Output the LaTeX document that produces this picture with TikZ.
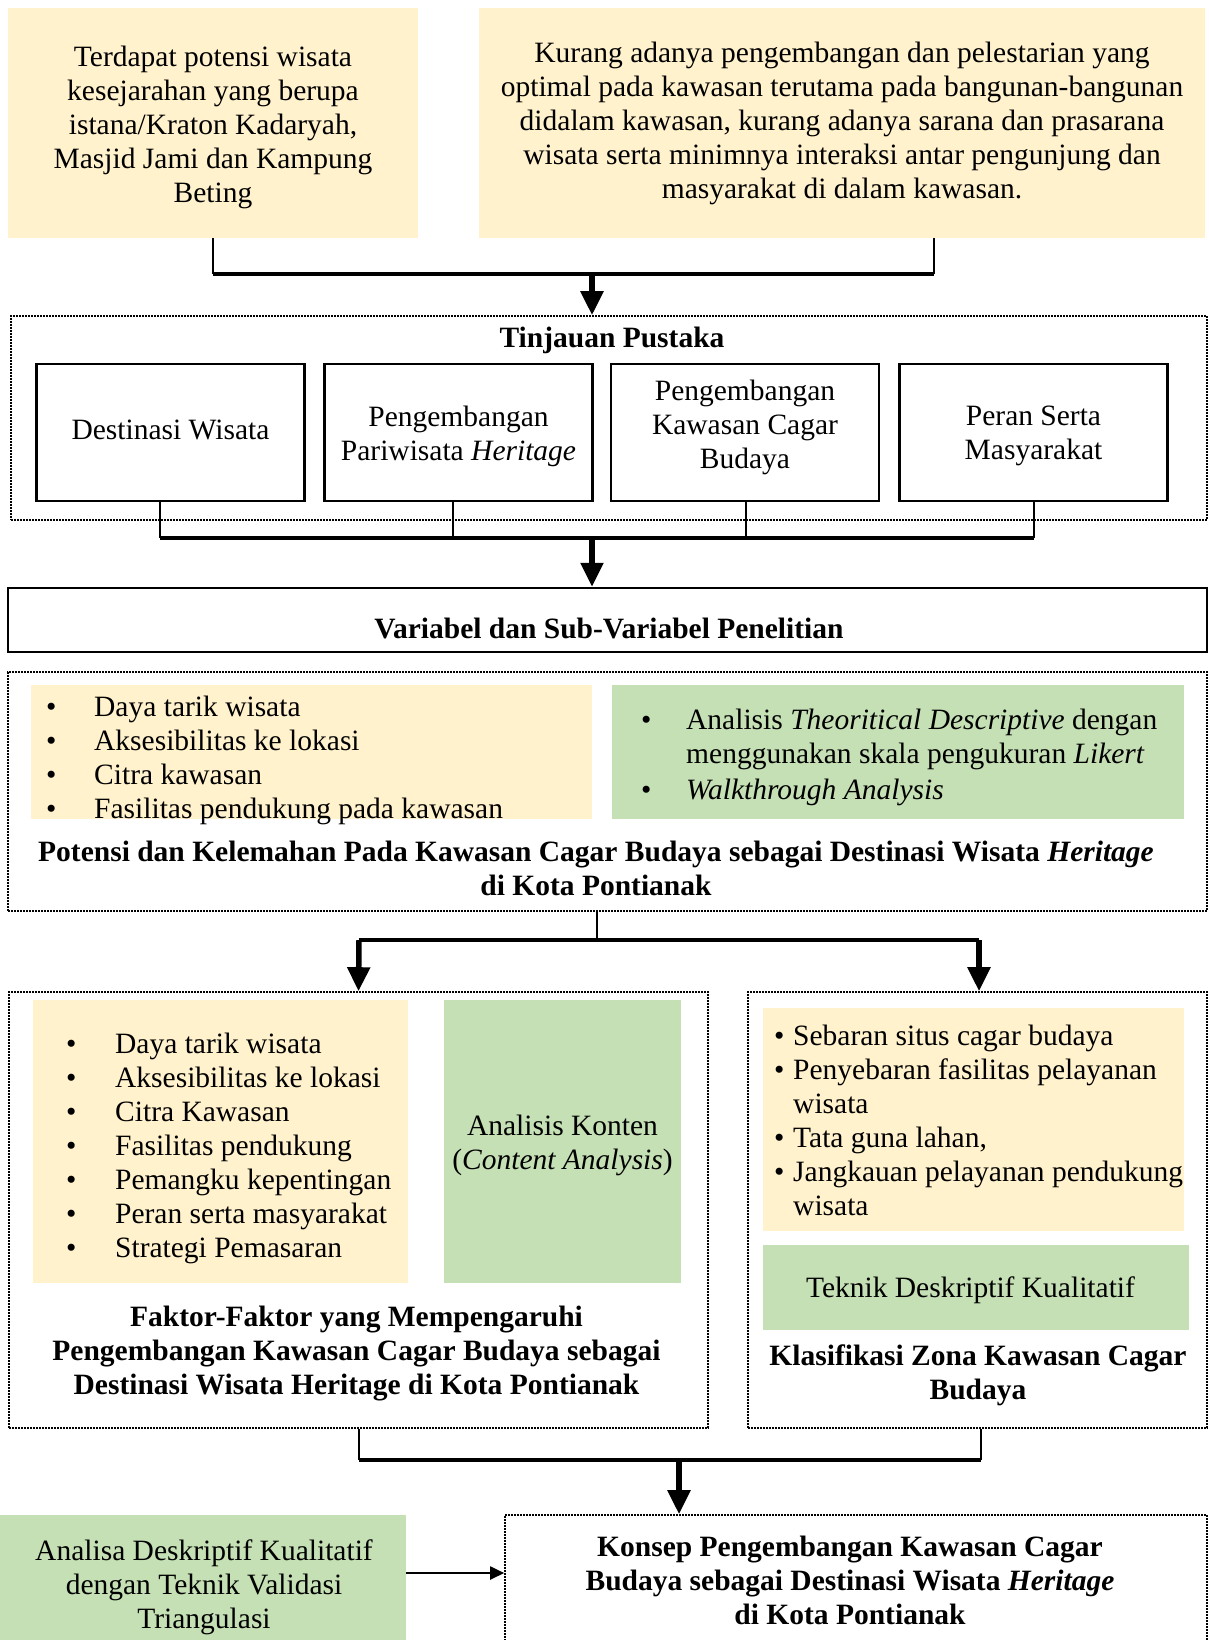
\documentclass[tikz,border=0pt]{standalone}
\usepackage{fontspec}
\setmainfont{Liberation Serif}
\usetikzlibrary{arrows.meta,calc}
\definecolor{cyel}{HTML}{FFF2CC}
\definecolor{cgrn}{HTML}{C5E0B4}
\newcommand{\fsz}{\fontsize{29.5}{34}\selectfont}
\newcommand{\bul}[1]{\makebox[#1][l]{•}}
\newcommand{\ind}[1]{\makebox[#1][l]{}}
\begin{document}
\begin{tikzpicture}[x=1pt,y=-1pt,
  every node/.style={font=\fsz, inner sep=0pt},
  ybox/.style={fill=cyel, draw=none},
  gbox/.style={fill=cgrn, draw=none},
  dotbox/.style={draw, line width=1.6pt, dash pattern=on 1.6pt off 1.4pt},
  solidbox/.style={draw, line width=2.5pt, minimum width=268pt, minimum height=137pt},
  thinln/.style={line width=2pt},
  thickln/.style={line width=3.5pt},
  bigarrow/.style={line width=5.5pt, -{Triangle[length=24pt,width=22pt]}},
  smallarrow/.style={line width=2pt, -{Triangle[length=14pt,width=13pt]}},
  ttl/.style={font=\fsz\bfseries, align=center}
]
\useasboundingbox (0,0) rectangle (1209,1640);
\fill[white] (0,0) rectangle (1209,1640);

% ---------- top boxes
\node[ybox, minimum width=410pt, minimum height=230pt] (tl) at (213,123) {};
\node[align=center] (tlt) at (213,127)
 {Terdapat potensi wisata\\ kesejarahan yang berupa\\ istana/Kraton Kadaryah,\\ Masjid Jami dan Kampung\\ Beting};
\node[ybox, minimum width=726pt, minimum height=230pt, align=center] (tr) at (842,123)
 {Kurang adanya pengembangan dan pelestarian yang\\ optimal pada kawasan terutama pada bangunan-bangunan\\ didalam kawasan, kurang adanya sarana dan prasarana\\ wisata serta minimnya interaksi antar pengunjung dan\\ masyarakat di dalam kawasan.};

% ---------- Tinjauan Pustaka
\node[dotbox, minimum width=1196pt, minimum height=204pt] (tp) at (609,418) {};
\node[ttl] (tpt) at (612,340) {Tinjauan Pustaka};
\node[solidbox] (b1) at (170.5,432.5) {};
\node[solidbox] (b2) at (458.5,432.5) {};
\node[solidbox] (b3) at (745,432.5) {};
\node[solidbox] (b4) at (1033.5,432.5) {};
\node[align=center] (b1t) at (170.5,429.5) {Destinasi Wisata};
\node[align=center] (b2t) at (458.5,436) {Pengembangan\\ Pariwisata \textit{Heritage}};
\node[align=center] (b3t) at (745,427.5) {Pengembangan\\ Kawasan Cagar\\ Budaya};
\node[align=center] (b4t) at (1033.5,435.5) {Peran Serta\\ Masyarakat};

% connectors top
\coordinate (j1) at (592,274);
\draw[thinln] (tl.south) -- (tl.south |- j1);
\draw[thinln] ([xshift=92pt]tr.south) -- ([xshift=92pt]tr.south |- j1);
\draw[thickln] (tl.south |- j1) -- ([xshift=92pt]tr.south |- j1);
\draw[bigarrow] (j1) -- (j1 |- tp.north);

% connectors tinjauan
\coordinate (j2) at (592,538);
\draw[thinln] ([xshift=-11pt]b1.south) -- ([xshift=-11pt]b1.south |- j2);
\draw[thinln] ([xshift=-6pt]b2.south) -- ([xshift=-6pt]b2.south |- j2);
\draw[thinln] ([xshift=1pt]b3.south) -- ([xshift=1pt]b3.south |- j2);
\draw[thinln] (b4.south) -- (b4.south |- j2);
\draw[thickln] ([xshift=-11pt]b1.south |- j2) -- (b4.south |- j2);

% ---------- Variabel
\node[draw, line width=2.5pt, minimum width=1199pt, minimum height=64pt] (var) at (607.5,620) {};
\node[ttl] (vart) at (609,628) {Variabel dan Sub-Variabel Penelitian};
\draw[bigarrow] (j2) -- (j2 |- var.north);

% ---------- Potensi
\node[dotbox, minimum width=1199pt, minimum height=239pt] (pot) at (607.5,791.5) {};
\node[ybox, minimum width=561pt, minimum height=134pt] (py) at (311.5,752) {};
\node[gbox, minimum width=572pt, minimum height=134pt] (pg) at (898,752) {};
\node[anchor=west, align=left] (pyl) at (46,760)
 {\bul{48pt}Daya tarik wisata\\ \bul{48pt}Aksesibilitas ke lokasi\\ \bul{48pt}Citra kawasan\\ \bul{48pt}Fasilitas pendukung pada kawasan};
\node[anchor=west, align=left] (pgl) at (641,757)
 {\bul{45pt}Analisis \textit{Theoritical Descriptive} dengan\\ \ind{45pt}menggunakan skala pengukuran \textit{Likert}\\[2pt] \bul{45pt}\textit{Walkthrough Analysis}};
\node[ttl] (pott) at (596,868) {Potensi dan Kelemahan Pada Kawasan Cagar Budaya sebagai Destinasi Wisata \textit{Heritage}\\ di Kota Pontianak};

% ---------- split
\coordinate (j3) at (597,941);
\node[dotbox, minimum width=699pt, minimum height=436pt] (fk) at (358.5,1210) {};
\node[dotbox, minimum width=459pt, minimum height=436pt] (kz) at (977.5,1210) {};
\draw[thinln] (pot.south -| j3) -- (j3);
\draw[thickln] ($(fk.north)+(0.5,-51)$) -- ($(kz.north)+(1.5,-51)$);
\draw[bigarrow] ($(fk.north)+(0.5,-51)$) -- (fk.north);
\draw[bigarrow] ($(kz.north)+(1.5,-51)$) -- ([xshift=1.5pt]kz.north);

% Faktor
\node[ybox, minimum width=375pt, minimum height=283pt] (fy) at (220.5,1141.5) {};
\node[gbox, minimum width=237pt, minimum height=283pt] (fg) at (562.5,1141.5) {};
\node[align=center] (fgt) at (562.5,1145) {Analisis Konten\\ (\textit{Content Analysis})};
\node[anchor=west, align=left] (fyl) at (66,1148)
 {\bul{49pt}Daya tarik wisata\\ \bul{49pt}Aksesibilitas ke lokasi\\ \bul{49pt}Citra Kawasan\\ \bul{49pt}Fasilitas pendukung\\ \bul{49pt}Pemangku kepentingan\\ \bul{49pt}Peran serta masyarakat\\ \bul{49pt}Strategi Pemasaran};
\node[ttl] (fkt) at (356.5,1354) {Faktor-Faktor yang Mempengaruhi\\ Pengembangan Kawasan Cagar Budaya sebagai\\ Destinasi Wisata Heritage di Kota Pontianak};

% Klasifikasi
\node[ybox, minimum width=421pt, minimum height=223pt] (ky) at (973.5,1119.5) {};
\node[anchor=west, align=left] (kyl) at (774,1120)
 {\bul{19pt}Sebaran situs cagar budaya\\ \bul{19pt}Penyebaran fasilitas pelayanan\\ \ind{19pt}wisata\\ \bul{19pt}Tata guna lahan,\\ \bul{19pt}Jangkauan pelayanan pendukung\\ \ind{19pt}wisata};
\node[gbox, minimum width=426pt, minimum height=85pt] (kg) at (976,1287.5) {};
\node (kgt) at (970.5,1290) {Teknik Deskriptif Kualitatif};
\node[ttl] (kzt) at (978,1375) {Klasifikasi Zona Kawasan Cagar\\ Budaya};

% ---------- bottom
\coordinate (j4) at (679,1460);
\node[dotbox, minimum width=702pt, minimum height=140pt] (ks) at (856,1585) {};
\node[ttl] (kst) at (850,1580) {Konsep Pengembangan Kawasan Cagar\\ Budaya sebagai Destinasi Wisata \textit{Heritage}\\ di Kota Pontianak};
\node[gbox, minimum width=406pt, minimum height=140pt] (ad) at (203,1585) {};
\node[align=center] (adt) at (204,1587) {Analisa Deskriptif Kualitatif\\ dengan Teknik Validasi\\ Triangulasi};
\draw[thinln] (fk.south) -- (fk.south |- j4);
\draw[thinln] ([xshift=3.5pt]kz.south) -- ([xshift=3.5pt]kz.south |- j4);
\draw[thickln] (fk.south |- j4) -- ([xshift=3.5pt]kz.south |- j4);
\draw[bigarrow] (j4) -- (j4 |- ks.north);
\draw[smallarrow] ([yshift=12pt]ad.east) -- ([yshift=12pt]ad.east -| ks.west);
\end{tikzpicture}
\end{document}
